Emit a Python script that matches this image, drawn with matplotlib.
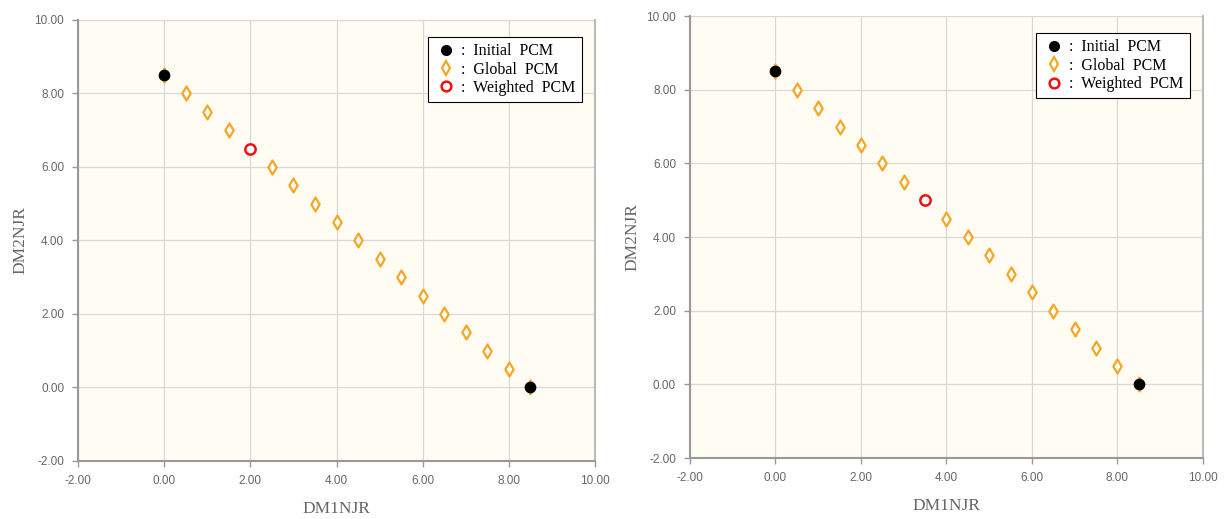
import numpy as np
import matplotlib.pyplot as plt
from matplotlib.lines import Line2D

# global PCM path (x, y)
global_x = [0.0, 0.5, 1.0, 1.5, 2.0, 2.5, 3.0, 3.5, 4.0, 4.5, 5.0, 5.5, 6.0, 6.5, 7.0, 7.5, 8.0, 8.5]
global_y = [8.5, 8.0, 7.5, 7.0, 6.5, 6.0, 5.5, 5.0, 4.5, 4.0, 3.5, 3.0, 2.5, 2.0, 1.5, 1.0, 0.5, 0.0]
initial_x = [0.0, 8.5]
initial_y = [8.5, 0.0]
weighted_left = (2.0, 6.5)
weighted_right = (3.5, 5.0)
ticks = [-2, 0, 2, 4, 6, 8, 10]
tick_labels = ['-2.00', '0.00', '2.00', '4.00', '6.00', '8.00', '10.00']

face = '#fffcf3'
orange = '#f5a623'
grey_txt = '#666666'


def panel(ax, weighted):
    ax.set_facecolor(face)
    ax.set_xlim(-2, 10)
    ax.set_ylim(-2, 10)
    ax.set_xticks(ticks)
    ax.set_yticks(ticks)
    ax.set_xticklabels(tick_labels, fontsize=8.5, color=grey_txt, family='Liberation Sans')
    ax.set_yticklabels(tick_labels, fontsize=8.5, color=grey_txt, family='Liberation Sans')
    ax.grid(True, color='#d8d8d8', lw=0.9)
    ax.set_axisbelow(True)
    for s in ['left', 'bottom']:
        ax.spines[s].set_color('#999999')
        ax.spines[s].set_linewidth(1.5)
    ax.spines['right'].set_color('#bbbbbb')
    ax.spines['right'].set_linewidth(1.5)
    ax.spines['top'].set_visible(False)
    ax.tick_params(length=4, color='#999999', width=1, pad=6)
    ax.set_xlabel('DM1NJR', fontsize=12.5, color=grey_txt, family='Liberation Serif', labelpad=10)
    ax.set_ylabel('DM2NJR', fontsize=12.5, color=grey_txt, family='Liberation Serif', labelpad=4)

    gx = [x for x, y in zip(global_x, global_y) if (x, y) != weighted]
    gy = [y for x, y in zip(global_x, global_y) if (x, y) != weighted]
    ax.scatter(gx, gy, marker='d', s=50, facecolor='white', edgecolor=orange, linewidth=1.6, zorder=3)
    ax.scatter(initial_x, initial_y, marker='o', s=55, color='black', zorder=4)
    ax.scatter([weighted[0]], [weighted[1]], marker='o', s=55, facecolor='white', edgecolor='#ee1111', linewidth=1.8, zorder=4)

    handles = [
        Line2D([], [], ls='none', marker='o', ms=7, color='black'),
        Line2D([], [], ls='none', marker='d', ms=7, mfc='white', mec=orange, mew=1.6),
        Line2D([], [], ls='none', marker='o', ms=7, mfc='white', mec='#ee1111', mew=1.8),
    ]
    labels = [':  Initial  PCM', ':  Global  PCM', ':  Weighted  PCM']
    leg = ax.legend(handles, labels, loc='upper right', bbox_to_anchor=(0.99, 0.98),
                    prop={'family': 'Liberation Serif', 'size': 11.5},
                    frameon=True, fancybox=False, edgecolor='black', framealpha=1,
                    handletextpad=0.2, handlelength=1.5, borderpad=0.4, labelspacing=0.15)
    leg.get_frame().set_linewidth(0.8)


fig = plt.figure(figsize=(12.27, 5.19), dpi=100)
ax1 = fig.add_axes([0.0636, 0.1118, 0.4214, 0.8497])
ax2 = fig.add_axes([0.5623, 0.1175, 0.4181, 0.8515])
panel(ax1, weighted_left)
panel(ax2, weighted_right)

fig.savefig('out.png', dpi=100)
